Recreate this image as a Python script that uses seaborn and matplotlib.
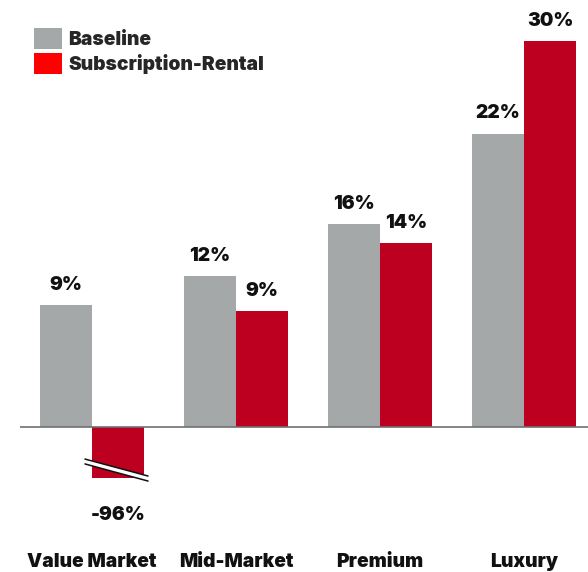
import numpy as np
import pandas as pd
import matplotlib
matplotlib.use("Agg")
import matplotlib.pyplot as plt
from matplotlib import font_manager as fm
from matplotlib.patches import Patch, Polygon
import seaborn as sns

# ---- data ----
categories = ["Value Market", "Mid-Market", "Premium", "Luxury"]
series = ["Baseline", "Subscription-Rental"]
baseline_values = [9.5, 11.7, 15.8, 22.8]
rental_values = [-96.0, 9.0, 14.3, 30.0]
baseline_labels = ["9%", "12%", "16%", "22%"]
rental_labels = ["-96%", "9%", "14%", "30%"]
axis_floor = -3.96  # where the broken (truncated) bar is cut

bar_colors = ["#A5A8A9", "#BE0020"]
legend_colors = ["#A5A8A9", "#FF0000"]

df = pd.DataFrame({
    "category": categories * 2,
    "series": [series[0]] * 4 + [series[1]] * 4,
    "value": baseline_values + rental_values,
    "label": baseline_labels + rental_labels,
})
df["shown"] = np.maximum(df["value"], axis_floor)

sns.set_theme(style="white")

# pick a heavy sans font if one is installed
heavy = []
for f in fm.fontManager.ttflist:
    w = f.weight if isinstance(f.weight, int) else {"black": 900, "heavy": 800, "extra bold": 800, "bold": 700}.get(str(f.weight), 400)
    heavy.append((f.name, w))
FONT, WEIGHT = "Liberation Sans", "bold"
for name in ["Inter", "Roboto", "Lato"]:
    ws = [w for n, w in heavy if n == name]
    if ws and max(ws) >= 800:
        FONT, WEIGHT = name, max(ws)
        break
plt.rcParams["font.family"] = [FONT, "DejaVu Sans"]

fig = plt.figure(figsize=(5.88, 5.72), dpi=100)
ax = fig.add_axes([20 / 588, 0, 568 / 588, 1])

sns.barplot(data=df, x="category", y="shown", hue="series", order=categories,
            hue_order=series, palette=bar_colors, width=0.722, gap=0,
            saturation=1, ax=ax, legend=False, edgecolor="none", linewidth=0)

ax.set_xlim(-0.5, 3.444)
ax.set_ylim(-145 / 12.87, 427 / 12.87)
ax.axis("off")
ax.axhline(0, color="#707070", lw=1.2, zorder=5)

fs = 13.8
tkw = dict(fontsize=fs, fontweight=WEIGHT, color="#111111")
patches = sorted(ax.patches, key=lambda p: p.get_x())
for p in patches:
    cx = p.get_x() + p.get_width() / 2
    y0 = p.get_y()
    top = y0 + p.get_height()
    idx = int(round(cx))
    s = 0 if cx < idx else 1
    row = df[(df["category"] == categories[idx]) & (df["series"] == series[s])].iloc[0]
    if row["value"] >= 0:
        ax.annotate(row["label"], (cx, max(top, y0)), xytext=(0, 14.5), textcoords="offset points",
                    ha="center", va="center", **tkw)
    else:
        bottom = min(top, y0)
        ax.annotate(row["label"], (cx, bottom), xytext=(0, -27), textcoords="offset points",
                    ha="center", va="center", **tkw)
        # break marks
        x0 = p.get_x() - 0.049
        x1 = p.get_x() + p.get_width() + 0.028
        ya0, ya1 = bottom + 1.47, bottom + 0.15
        yb0, yb1 = bottom + 1.09, bottom - 0.24
        poly = Polygon([[x0, ya0], [x1, ya1], [x1, yb1], [x0, yb0]], closed=True,
                       facecolor="white", edgecolor="none", zorder=6, clip_on=False)
        ax.add_patch(poly)
        ax.plot([x0, x1], [ya0, ya1], color="#111111", lw=1.1, zorder=7, clip_on=False)
        ax.plot([x0, x1], [yb0, yb1], color="#111111", lw=1.1, zorder=7, clip_on=False)

for i, c in enumerate(categories):
    ax.text(i, -10.49, c, ha="center", va="center", **tkw)

handles = [Patch(facecolor=col, edgecolor="none", label=lab)
           for col, lab in zip(legend_colors, series)]
leg = fig.legend(handles=handles, loc="upper left",
                 bbox_to_anchor=(34 / 588, 1 - 28 / 572), frameon=False,
                 prop={"family": FONT, "weight": WEIGHT, "size": 13.8},
                 handlelength=1.46, handleheight=1.32, handletextpad=0.32,
                 labelspacing=0.22, borderpad=0, borderaxespad=0)

fig.savefig("out.png", dpi=100)
